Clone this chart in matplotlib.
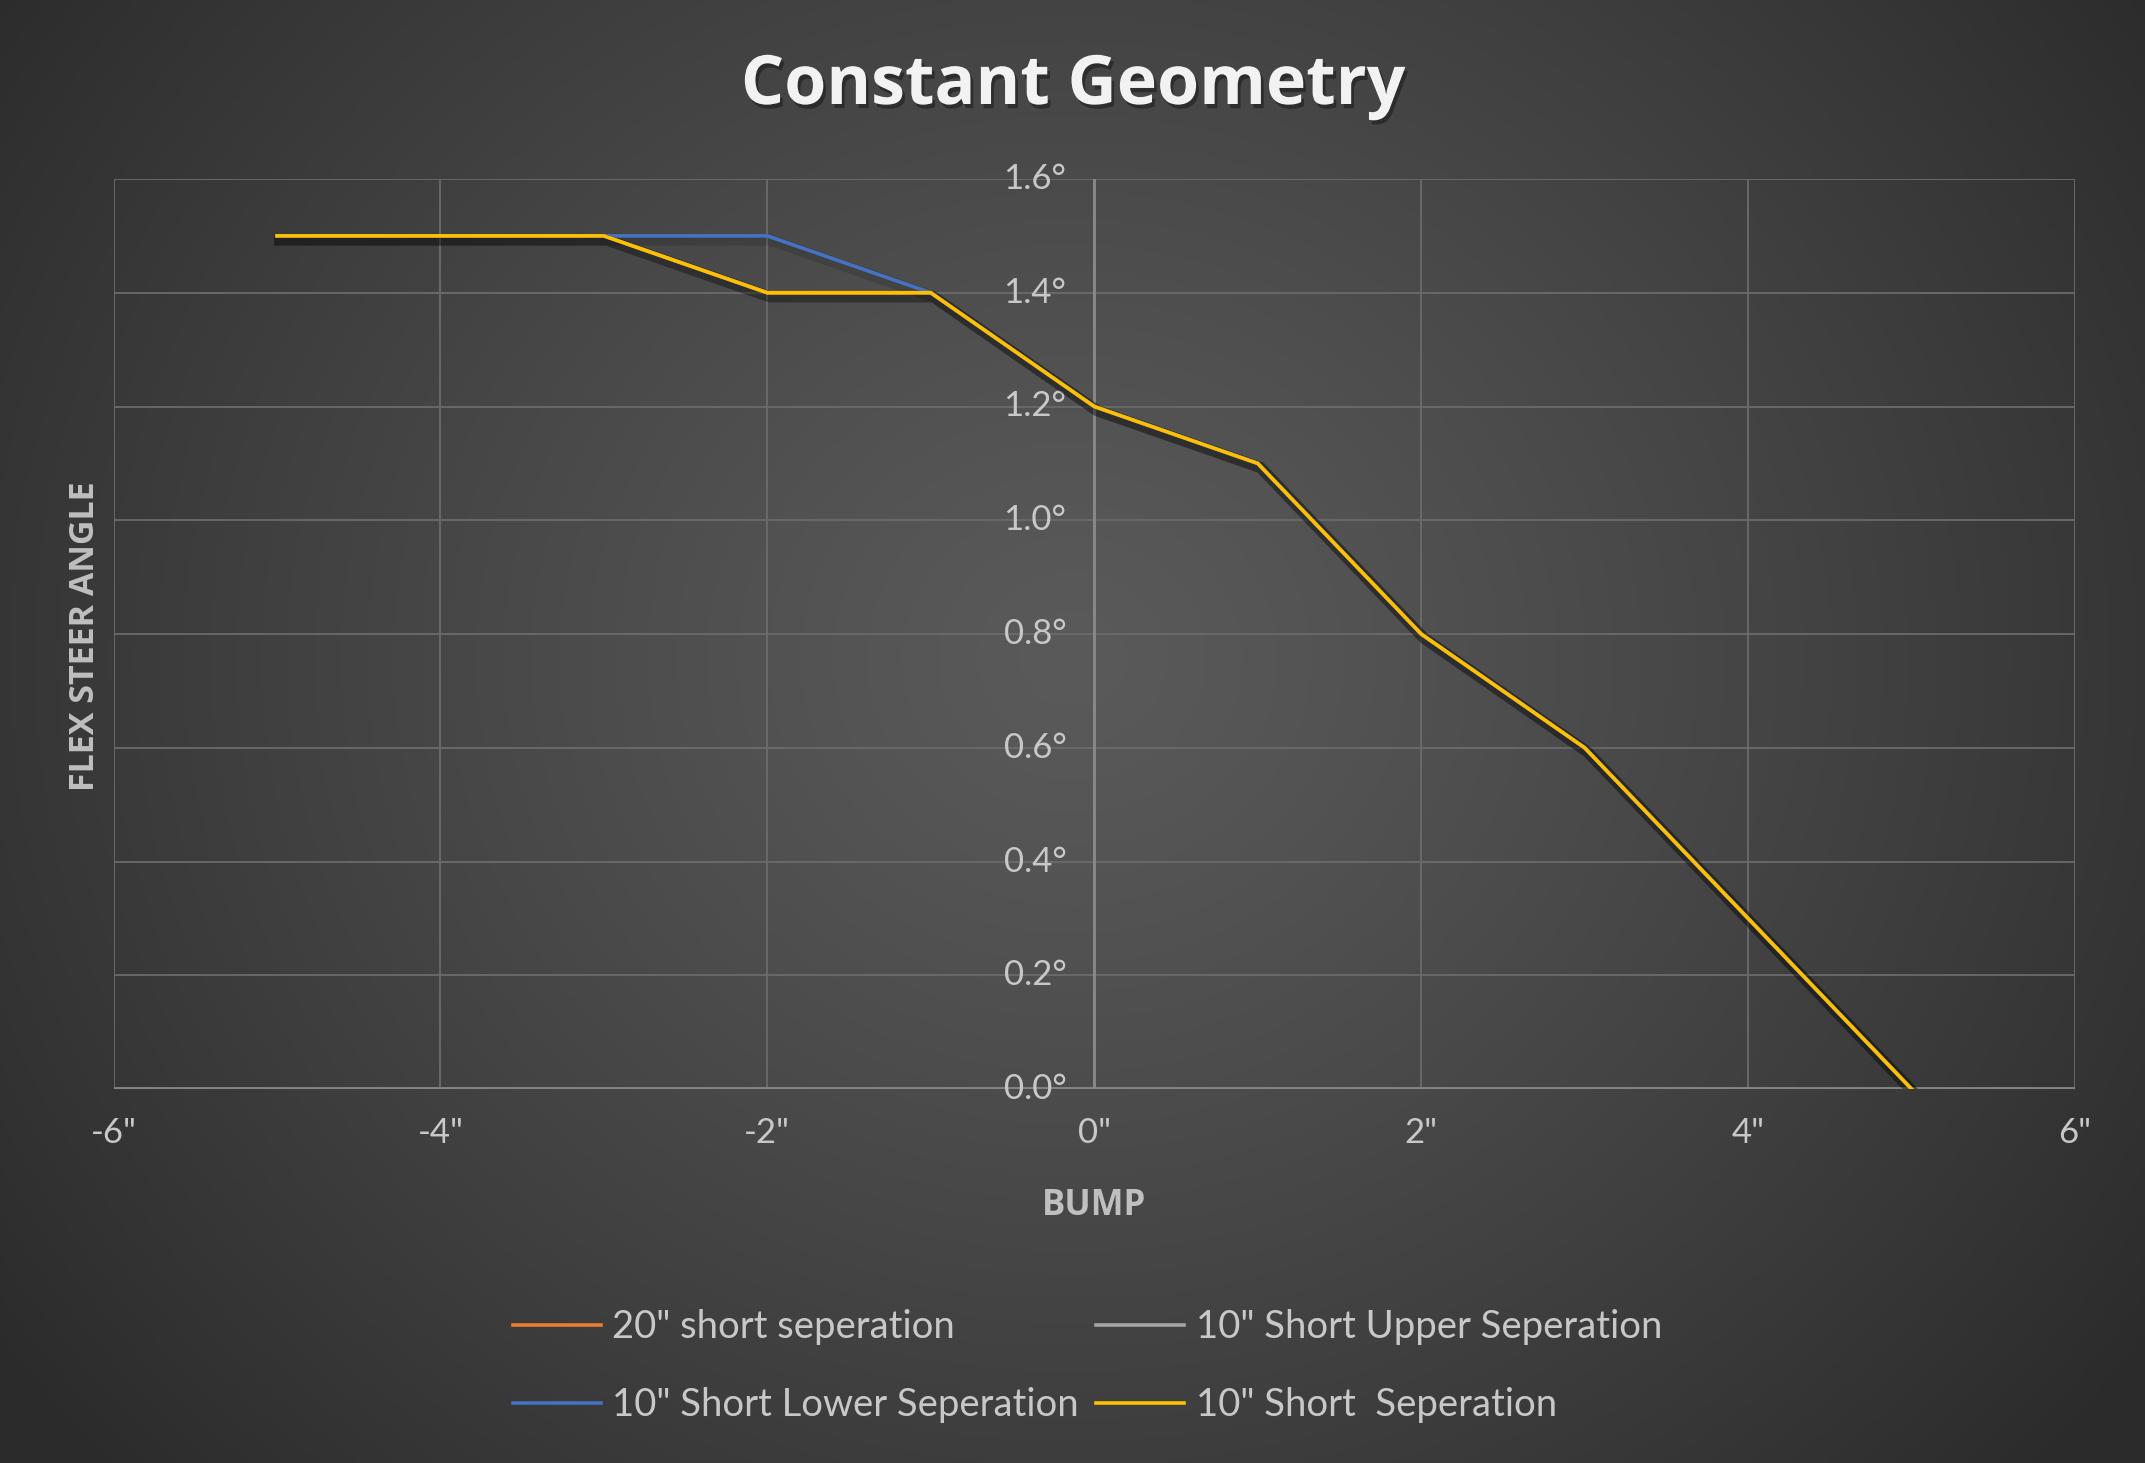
import numpy as np
import matplotlib
matplotlib.use("Agg")
import matplotlib.pyplot as plt
import matplotlib.patheffects as pe
from matplotlib.lines import Line2D

# ---- data ----
bump = [-5, -4, -3, -2, -1, 0, 1, 2, 3, 4, 5]
s20_short = [1.5, 1.5, 1.5, 1.4, 1.4, 1.2, 1.1, 0.8, 0.6, 0.3, 0.0]
s10_upper = [1.5, 1.5, 1.5, 1.4, 1.4, 1.2, 1.1, 0.8, 0.6, 0.3, 0.0]
s10_lower = [1.5, 1.5, 1.5, 1.5, 1.4, 1.2, 1.1, 0.8, 0.6, 0.3, 0.0]
s10_short = [1.5, 1.5, 1.5, 1.4, 1.4, 1.2, 1.1, 0.8, 0.6, 0.3, 0.0]
labels = ['20" short seperation', '10" Short Upper Seperation',
          '10" Short Lower Seperation', '10" Short  Seperation']
colors = ['#ED7D31', '#A5A5A5', '#4472C4', '#FFC000']
xticks = [-6, -4, -2, 0, 2, 4, 6]
yticks = [0.0, 0.2, 0.4, 0.6, 0.8, 1.0, 1.2, 1.4, 1.6]

W, H = 2145, 1463
fig = plt.figure(figsize=(W / 100, H / 100), dpi=100)

# background radial gradient
bg = fig.add_axes([0, 0, 1, 1], zorder=-10)
yy, xx = np.mgrid[0:1:400j, 0:1:600j]
r = np.sqrt(((xx - 0.5) * 1.0) ** 2 + ((yy - 0.45) * 0.75) ** 2)
r = np.clip(r / 0.62, 0, 1)
c_in, c_out = 0x5a / 255, 0x2b / 255
img = c_in + (c_out - c_in) * r ** 1.2
bg.imshow(np.dstack([img, img, img]), extent=[0, 1, 0, 1], aspect='auto', origin='upper')
bg.axis('off')

left, right = 113.5 / W, 2075 / W
bottom, top = 1 - 1089 / H, 1 - 179 / H
ax = fig.add_axes([left, bottom, right - left, top - bottom])
ax.patch.set_alpha(0)
ax.set_xlim(-6, 6)
ax.set_ylim(0, 1.6)
for s in ax.spines.values():
    s.set_visible(False)

grid_c = '#6b6b6b'
for x in xticks:
    ax.axvline(x, color=grid_c, lw=1.3, zorder=1)
for y in yticks:
    ax.axhline(y, color=grid_c, lw=1.3, zorder=1)
ax.axvline(0, color='#8a8a8a', lw=2.0, zorder=1.5)
ax.axhline(0, color='#858585', lw=3.5, zorder=1.5)

ax.set_xticks([])
ax.set_yticks([])

tick_c = '#c8c8c8'
font = 'Lato'
for x in xticks:
    ax.annotate(f'{x}"', (x, 0), xytext=(0, -32), textcoords='offset points',
                ha='center', va='center', fontsize=25, color=tick_c, family=font)
for y in yticks:
    ax.annotate(f'{y:.1f}°', (0, y), xytext=(-20, 0), textcoords='offset points',
                ha='right', va='center', fontsize=25, color=tick_c, family=font, zorder=3)

shadow = [pe.SimpleLineShadow(offset=(2, -3), shadow_color='black', alpha=0.13, linewidth=8),
          pe.Normal()]
series = [s20_short, s10_upper, s10_lower, s10_short]
handles = []
for vals, c, lab in zip(series, colors, labels):
    ax.plot(bump, vals, color=c, lw=2.6, zorder=4, path_effects=shadow,
            solid_joinstyle='miter')
    handles.append(Line2D([], [], color=c, lw=2.6))

fig.text(0.5, 1 - 86 / H, 'Constant Geometry', ha='center', va='center', fontsize=49,
         fontweight='bold', color='#f2f2f2', family='Open Sans',
         path_effects=[pe.withSimplePatchShadow(offset=(2, -3), shadow_rgbFace='black', alpha=0.35)])

fig.text(85 / W, 1 - 636 / H, 'FLEX STEER ANGLE', rotation=90, ha='center', va='center',
         fontsize=24.5, fontweight='bold', color='#bfbfbf', family='Open Sans')
fig.text(1094 / W, 1 - 1206 / H, 'BUMP', ha='center', va='center',
         fontsize=25, fontweight='bold', color='#bfbfbf', family='Open Sans')

order = [0, 2, 1, 3]
leg = fig.legend([handles[i] for i in order], [labels[i] for i in order], ncol=2,
                 loc='center', bbox_to_anchor=(0.507, 1 - 1366 / H), frameon=False,
                 handlelength=2.3, handletextpad=0.3, columnspacing=0.45,
                 labelspacing=1.1, prop={'family': font, 'size': 27.5})
for t in leg.get_texts():
    t.set_color(tick_c)

fig.savefig('out.png', dpi=100)
